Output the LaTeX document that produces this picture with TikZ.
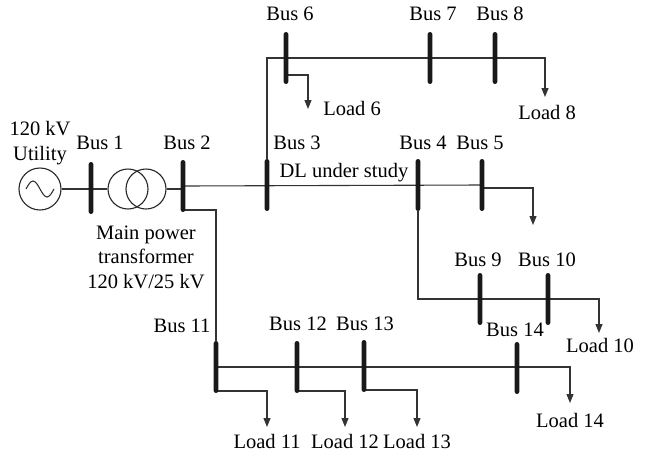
\documentclass[tikz,border=0pt]{standalone}
\usepackage{fontspec}
\setmainfont{Liberation Serif}
\usetikzlibrary{arrows.meta,backgrounds}

\begin{document}
\begin{tikzpicture}
		[x=1pt,y=-1pt,
		wire/.style={draw=black!80,line width=1.1pt},
		arr/.style={wire,-{Triangle[length=9pt,width=7pt]}},
		ring/.style={shape=circle,draw=black!85,line width=1.1pt,inner sep=0pt},
		busbar/.style={shape=rectangle,fill=black!90,inner sep=0pt,
			minimum width=4.8pt,minimum height=52pt,rounded corners=2.4pt},
		lbl/.style={font=\fontsize{20.5}{24.5}\selectfont,inner sep=0pt,align=center}]
		\useasboundingbox (0,0) rectangle (651,456);
		%% bus bars
		\foreach \bus/\x/\y in {b1/91/188,b2/183/186,b3/267/185,b4/418/185,
			b5/482/185,b6/286/58,b7/430/58,b8/495/58,b9/480/299,b10/548/299,
			b11/216/367,b12/297/367,b13/364/366,b14/517/368}
		{
			\node[busbar] (\bus) at (\x,\y) {};
		}
		%% source and transformer
		\node[ring,minimum size=42pt] (gen) at (40,189) {};
		\node[ring,minimum size=40pt] (tra) at (128,189) {};
		\node[ring,minimum size=40pt] (trb) at (146,189) {};
		\draw[wire] ([xshift=-14pt]gen.center) sin ++(7,-8) cos ++(7,8)
			sin ++(7,8) cos ++(7,-8);
		%% load ends
		\coordinate (l5) at (533,225);
		\coordinate (l6) at (308,109);
		\coordinate (l8) at (545,97);
		\coordinate (l10) at (599,333);
		\coordinate (l11) at (267,427);
		\coordinate (l12) at (345,427);
		\coordinate (l13) at (417,427);
		\coordinate (l14) at (570,403);
		%% lines
		\begin{scope}[on background layer]
			\draw[wire] (gen) -- (tra);
			\draw[wire] (trb.east) -- (trb.east -| b2.center);
			\draw[wire] (b2.center) -- (b5.center);
			\draw[wire] ([yshift=-24pt]b2.center) -| (b11.north);
			\draw[arr] (b3.north) |- (b6.center) -| (l8);
			\draw[arr] ([yshift=-17pt]b6.center) -| (l6);
			\draw[arr] ([yshift=-3pt]b5.center) -| (l5);
			\draw[arr] (b4.south) |- (b10.center) -| (l10);
			\draw[arr] (b11.center) -| (l14);
			\foreach \startNode/\endNode in {b11/l11,b12/l12,b13/l13}
			{
				\draw[arr] ([yshift=-24pt]\startNode.center) -| (\endNode);
			}
		\end{scope}
		%% labels
		\foreach \name/\x/\y/\txt in {lb1/100/143/Bus 1,lb2/187/143/Bus 2,
			lb3/297/143/Bus 3,lb4/423/143/Bus 4,lb5/480/143/Bus 5,
			lb6/290/14/Bus 6,lb7/433/14/Bus 7,lb8/500/14/Bus 8,
			lb9/478/260/Bus 9,lb10/547/260/Bus 10,lb11/182/326/Bus 11,
			lb12/298/324/Bus 12,lb13/365/324/Bus 13,lb14/515/330/Bus 14,
			ld6/352/108/Load 6,ld8/547/112/Load 8,ld10/600/345/Load 10,
			ld11/267/441/Load 11,ld12/345/441/Load 12,ld13/417/441/Load 13,
			ld14/570/420/Load 14}
		{
			\node[lbl] (\name) at (\x,\y) {\txt};
		}
		\node[lbl] (util) at (40,143) {120 kV\\Utility};
		\node[lbl] (dl) at (344,173) {DL under study};
		\node[lbl] (mpt) at (146,257) {Main power\\transformer\\120 kV/25 kV};
\end{tikzpicture}
\end{document}
